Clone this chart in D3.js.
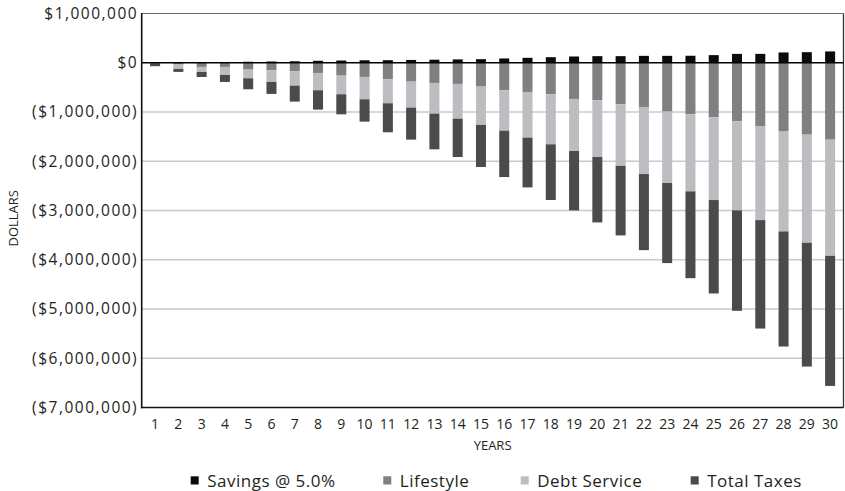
<!DOCTYPE html>
<html>
<head>
<meta charset="utf-8">
<script src="https://cdn.jsdelivr.net/npm/d3@7"></script>
<style>
  html, body { margin: 0; padding: 0; background: #fff; }
  svg { display: block; }
  text { font-family: "Open Sans", sans-serif; fill: #231f20; }
</style>
</head>
<body>
<svg id="chart" width="845" height="491"></svg>
<script>
// Year-by-year cash flows, in dollars (costs are negative)
const years = [1, 2, 3, 4, 5, 6, 7, 8, 9, 10, 11, 12, 13, 14, 15,
               16, 17, 18, 19, 20, 21, 22, 23, 24, 25, 26, 27, 28, 29, 30];

const savings = [5000, 8000, 12000, 15000, 20000, 25000, 30000, 40000, 45000, 50000,
                 52000, 57000, 62000, 68000, 73000, 87000, 100000, 113000, 127000, 134000,
                 134000, 140000, 140000, 142000, 155000, 180000, 180000, 209000, 215000, 230000];

const lifestyle = [-5000, -37000, -85000, -85000, -139000, -152000, -173000, -207000, -261000, -288000,
                   -335000, -383000, -410000, -430000, -484000, -559000, -593000, -640000, -735000, -762000,
                   -843000, -898000, -992000, -1047000, -1108000, -1189000, -1284000, -1386000, -1460000, -1562000];

const debtService = [-5000, -88000, -102000, -163000, -176000, -237000, -291000, -352000, -379000, -454000,
                     -488000, -528000, -623000, -705000, -779000, -820000, -928000, -1016000, -1057000, -1152000,
                     -1250000, -1362000, -1450000, -1565000, -1680000, -1809000, -1911000, -2039000, -2195000, -2358000];

const totalTaxes = [-60000, -61000, -102000, -142000, -224000, -244000, -325000, -393000, -407000, -454000,
                    -589000, -650000, -725000, -779000, -854000, -942000, -1010000, -1131000, -1206000, -1328000,
                    -1413000, -1545000, -1626000, -1762000, -1897000, -2039000, -2202000, -2337000, -2514000, -2642000];

const seriesNames = ["Savings @ 5.0%", "Lifestyle", "Debt Service", "Total Taxes"];
const seriesKeys = ["savings", "lifestyle", "debt", "taxes"];
const seriesColors = ["#0b0b0b", "#808083", "#bcbdc1", "#4b4b4d"];

const yTicks = [1000000, 0, -1000000, -2000000, -3000000, -4000000, -5000000, -6000000, -7000000];

// ---- layout ----
const plot = { left: 141.7, right: 843.5, top: 13.5, bottom: 407.5 };
const svg = d3.select("#chart");

const x = d3.scaleBand()
  .domain(years)
  .range([plot.left, plot.right])
  .paddingInner(0.57)
  .paddingOuter(0.36);

const y = d3.scaleLinear()
  .domain([-7000000, 1000000])
  .range([plot.bottom, plot.top]);

const rows = years.map((yr, i) => ({
  year: yr,
  savings: savings[i],
  lifestyle: lifestyle[i],
  debt: debtService[i],
  taxes: totalTaxes[i]
}));

const stacked = d3.stack()
  .keys(seriesKeys)
  .offset(d3.stackOffsetDiverging)(rows);

// gridlines behind the bars
svg.append("g")
  .selectAll("line")
  .data(yTicks.filter(v => v < 0 && v > -7000000))
  .join("line")
  .attr("x1", plot.left).attr("x2", plot.right)
  .attr("y1", d => y(d)).attr("y2", d => y(d))
  .attr("stroke", "#cacaca")
  .attr("stroke-width", 1.4);

// stacked bars
svg.append("g")
  .selectAll("g")
  .data(stacked)
  .join("g")
  .attr("fill", (d, i) => seriesColors[i])
  .selectAll("rect")
  .data(d => d)
  .join("rect")
  .attr("x", d => x(d.data.year))
  .attr("width", x.bandwidth())
  .attr("y", d => y(Math.max(d[0], d[1])))
  .attr("height", d => Math.abs(y(d[0]) - y(d[1])));

// frame
svg.append("line")
  .attr("x1", plot.left).attr("x2", plot.right)
  .attr("y1", y(1000000)).attr("y2", y(1000000))
  .attr("stroke", "#6a6a6a").attr("stroke-width", 1.1);
svg.append("line")
  .attr("x1", plot.right).attr("x2", plot.right)
  .attr("y1", plot.top).attr("y2", plot.bottom)
  .attr("stroke", "#333").attr("stroke-width", 1.3);
svg.append("line")
  .attr("x1", plot.left).attr("x2", plot.right)
  .attr("y1", y(0)).attr("y2", y(0))
  .attr("stroke", "#000").attr("stroke-width", 1.6);
svg.append("line")
  .attr("x1", plot.left).attr("x2", plot.left)
  .attr("y1", plot.top - 0.5).attr("y2", plot.bottom + 0.8)
  .attr("stroke", "#111").attr("stroke-width", 1.6);
svg.append("line")
  .attr("x1", plot.left - 0.8).attr("x2", plot.right)
  .attr("y1", plot.bottom).attr("y2", plot.bottom)
  .attr("stroke", "#111").attr("stroke-width", 1.6);

// y axis labels
const money = d3.format(",");
const fmtDollars = v => v === 0 ? "$0" : (v > 0 ? "$" + money(v) : "($" + money(-v) + ")");

svg.append("g")
  .attr("transform", `translate(${plot.left},0)`)
  .call(d3.axisLeft(y).tickValues(yTicks).tickFormat(fmtDollars).tickSize(0).tickPadding(3.5))
  .call(g => g.select(".domain").remove())
  .call(g => g.selectAll("text")
    .attr("fill", "#231f20")
    .style("font-family", "'Open Sans', sans-serif")
    .style("font-size", "15.5px")
    .style("letter-spacing", "1.5px"));

// x axis labels
svg.append("g")
  .attr("transform", `translate(0,${plot.bottom})`)
  .call(d3.axisBottom(x).tickSize(0).tickPadding(11.5))
  .call(g => g.select(".domain").remove())
  .call(g => g.selectAll("text")
    .attr("fill", "#231f20")
    .style("font-family", "'Open Sans', sans-serif")
    .style("font-size", "14px"));

// axis titles
svg.append("text")
  .attr("x", (plot.left + plot.right) / 2)
  .attr("y", 449.5)
  .attr("text-anchor", "middle")
  .style("font-size", "13px")
  .text("YEARS");

svg.append("text")
  .attr("transform", "translate(18.3,218.3) rotate(-90)")
  .attr("text-anchor", "middle")
  .style("font-size", "13px")
  .text("DOLLARS");

// legend
const legendX = [190.7, 383.3, 520.7, 690.7];
const legend = svg.append("g")
  .selectAll("g")
  .data(seriesNames)
  .join("g")
  .attr("transform", (d, i) => `translate(${legendX[i]},0)`);

legend.append("rect")
  .attr("x", 0).attr("y", 476.3)
  .attr("width", 8).attr("height", 8.2)
  .attr("fill", (d, i) => seriesColors[i]);

legend.append("text")
  .attr("x", 16.5)
  .attr("y", 487)
  .style("font-size", "17px")
  .style("letter-spacing", "0.5px")
  .text(d => d);
</script>
</body>
</html>
